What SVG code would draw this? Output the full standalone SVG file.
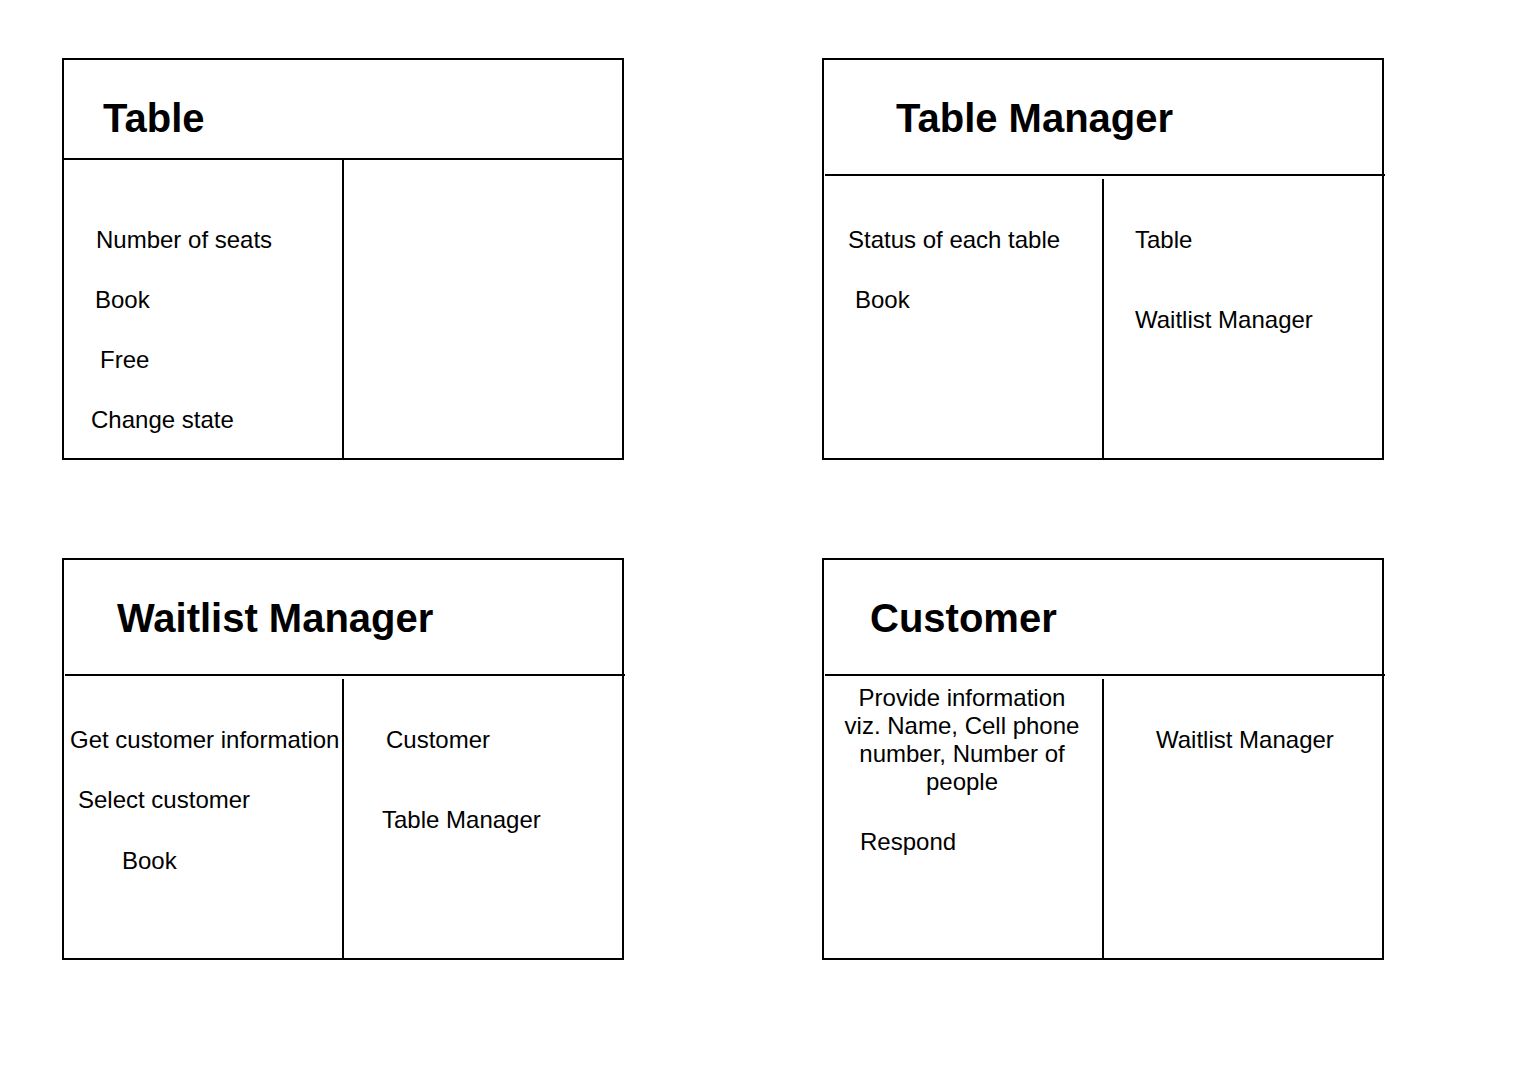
<svg xmlns="http://www.w3.org/2000/svg" width="1530" height="1086" viewBox="0 0 1530 1086">
<style>
.box{fill:#fff;stroke:#000;stroke-width:2}
.ln{stroke:#000;stroke-width:2;fill:none}
.t{font-family:"Liberation Sans",Arial,Helvetica,sans-serif;font-size:40px;font-weight:bold;fill:#000}
.b{font-family:"Liberation Sans",Arial,Helvetica,sans-serif;font-size:24px;fill:#000}
.c{text-anchor:middle}
</style>
<rect width="1530" height="1086" fill="#fff"/>
<g id="table">
<rect class="box" x="63" y="59" width="560" height="400"/>
<line class="ln" x1="63" y1="159" x2="623" y2="159"/>
<line class="ln" x1="343" y1="159" x2="343" y2="459"/>
<text class="t" x="103" y="132">Table</text>
<text class="b" x="96" y="248">Number of seats</text>
<text class="b" x="95" y="308">Book</text>
<text class="b" x="100" y="368">Free</text>
<text class="b" x="91" y="428">Change state</text>
</g>
<g id="table-manager">
<rect class="box" x="823" y="59" width="560" height="400"/>
<line class="ln" x1="825" y1="175" x2="1385" y2="175"/>
<line class="ln" x1="1103" y1="179" x2="1103" y2="459"/>
<text class="t" x="896" y="132">Table Manager</text>
<text class="b" x="848" y="248">Status of each table</text>
<text class="b" x="855" y="308">Book</text>
<text class="b" x="1135" y="248">Table</text>
<text class="b" x="1135" y="328">Waitlist Manager</text>
</g>
<g id="waitlist-manager">
<rect class="box" x="63" y="559" width="560" height="400"/>
<line class="ln" x1="65" y1="675" x2="625" y2="675"/>
<line class="ln" x1="343" y1="679" x2="343" y2="959"/>
<text class="t" x="117" y="632">Waitlist Manager</text>
<text class="b" x="70" y="748">Get customer information</text>
<text class="b" x="78" y="808">Select customer</text>
<text class="b" x="122" y="869">Book</text>
<text class="b" x="386" y="748">Customer</text>
<text class="b" x="382" y="828">Table Manager</text>
</g>
<g id="customer">
<rect class="box" x="823" y="559" width="560" height="400"/>
<line class="ln" x1="825" y1="675" x2="1385" y2="675"/>
<line class="ln" x1="1103" y1="679" x2="1103" y2="959"/>
<text class="t" x="870" y="632">Customer</text>
<text class="b c" x="962" y="706">Provide information</text>
<text class="b c" x="962" y="734">viz. Name, Cell phone</text>
<text class="b c" x="962" y="762">number, Number of</text>
<text class="b c" x="962" y="790">people</text>
<text class="b" x="860" y="850">Respond</text>
<text class="b" x="1156" y="748">Waitlist Manager</text>
</g>
<g id="connectors"></g>
</svg>
